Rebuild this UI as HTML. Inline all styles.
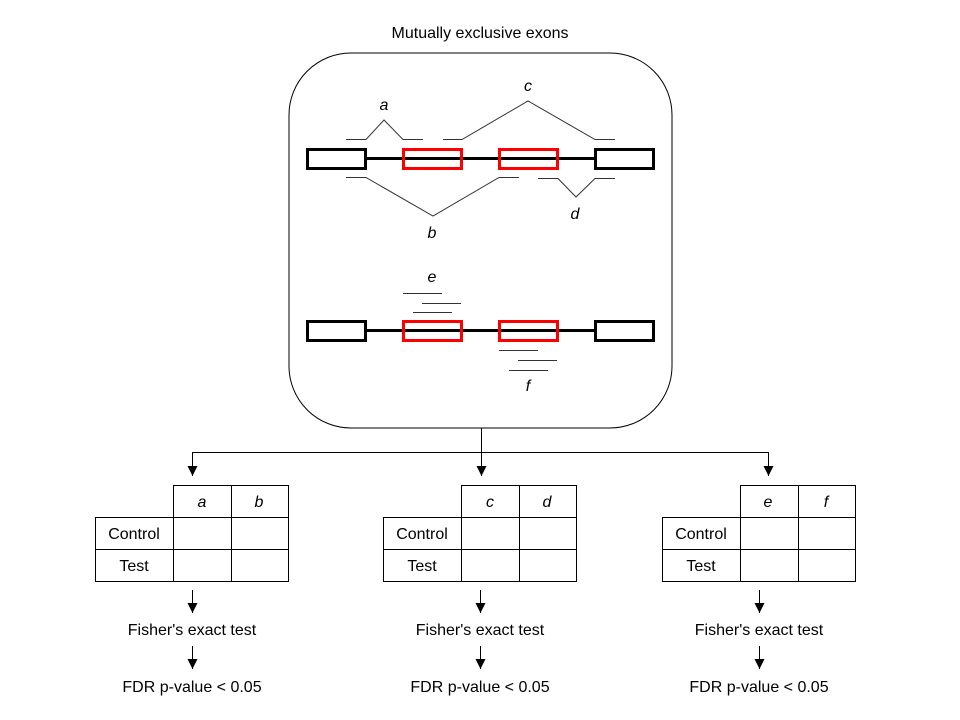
<!DOCTYPE html>
<html><head><meta charset="utf-8"><style>body{margin:0;background:#fff}svg{display:block}text{font-family:"Liberation Sans",sans-serif;font-size:16px;fill:#000}</style></head><body>
<svg width="960" height="720" viewBox="0 0 960 720" xmlns="http://www.w3.org/2000/svg">
<defs><marker id="ar" markerWidth="10" markerHeight="10" refX="10" refY="5" orient="auto" markerUnits="userSpaceOnUse"><path d="M0,0 L10,5 L0,10 Z" fill="#000"/></marker></defs>
<text x="480" y="38" text-anchor="middle">Mutually exclusive exons</text>
<rect x="289" y="53" width="383" height="375" rx="62" fill="none" stroke="#000" stroke-width="1"/>
<g stroke-width="3" fill="none">
<line x1="366" y1="158.5" x2="595" y2="158.5" stroke="#000"/>
<rect x="307.5" y="149.5" width="58" height="19" stroke="#000"/>
<rect x="403.5" y="149.5" width="58" height="19" stroke="#f00"/>
<rect x="499.5" y="149.5" width="58" height="19" stroke="#f00"/>
<rect x="595.5" y="149.5" width="58" height="19" stroke="#000"/>
<line x1="366" y1="330.5" x2="595" y2="330.5" stroke="#000"/>
<rect x="307.5" y="321.5" width="58" height="19" stroke="#000"/>
<rect x="403.5" y="321.5" width="58" height="19" stroke="#f00"/>
<rect x="499.5" y="321.5" width="58" height="19" stroke="#f00"/>
<rect x="595.5" y="321.5" width="58" height="19" stroke="#000"/>
</g>
<g stroke="#333" stroke-width="1" fill="none">
<polyline points="346,139.5 366,139.5 384,120 403,139.5 423,139.5"/>
<polyline points="443,139.5 462,139.5 528,101 595,139.5 615,139.5"/>
<polyline points="346,177.5 366,177.5 433,216 499,177.5 519,177.5"/>
<polyline points="538,178.5 558,178.5 576,197 595,178.5 615,178.5"/>
<line x1="403" y1="293.5" x2="442" y2="293.5"/><line x1="422" y1="303.5" x2="461" y2="303.5"/><line x1="413" y1="312.5" x2="452" y2="312.5"/>
<line x1="499" y1="350.5" x2="538" y2="350.5"/><line x1="518" y1="360.5" x2="557" y2="360.5"/><line x1="509" y1="370.5" x2="548" y2="370.5"/>
</g>
<text x="384" y="110" text-anchor="middle" font-style="italic">a</text>
<text x="528" y="91" text-anchor="middle" font-style="italic">c</text>
<text x="432" y="238" text-anchor="middle" font-style="italic">b</text>
<text x="575" y="219" text-anchor="middle" font-style="italic">d</text>
<text x="432" y="282" text-anchor="middle" font-style="italic">e</text>
<text x="528" y="391" text-anchor="middle" font-style="italic">f</text>
<g stroke="#000" stroke-width="1" fill="none">
<line x1="481.5" y1="428" x2="481.5" y2="452"/>
<line x1="192.5" y1="452.5" x2="768.5" y2="452.5"/>
<line x1="192.5" y1="452" x2="192.5" y2="476" marker-end="url(#ar)"/>
<line x1="481.5" y1="452" x2="481.5" y2="476" marker-end="url(#ar)"/>
<line x1="768.5" y1="452" x2="768.5" y2="476" marker-end="url(#ar)"/>
</g>
<g id="t1">
<g stroke="#000" stroke-width="1" fill="none">
<rect x="173.5" y="485.5" width="115" height="96"/>
<rect x="95.5" y="517.5" width="193" height="64"/>
<line x1="95" y1="549.5" x2="288" y2="549.5"/>
<line x1="231.5" y1="485" x2="231.5" y2="581"/>
<line x1="192.5" y1="590" x2="192.5" y2="613" marker-end="url(#ar)"/>
<line x1="192.5" y1="646" x2="192.5" y2="669" marker-end="url(#ar)"/>
</g>
<text x="134" y="539" text-anchor="middle">Control</text>
<text x="134" y="571" text-anchor="middle">Test</text>
<text x="192" y="635" text-anchor="middle">Fisher's exact test</text>
<text x="192" y="692" text-anchor="middle">FDR p-value &lt; 0.05</text>
</g>
<text x="202" y="507" text-anchor="middle" font-style="italic">a</text>
<text x="259" y="507" text-anchor="middle" font-style="italic">b</text>
<use href="#t1" transform="translate(288,0)"/>
<text x="490" y="507" text-anchor="middle" font-style="italic">c</text>
<text x="547" y="507" text-anchor="middle" font-style="italic">d</text>
<use href="#t1" transform="translate(567,0)"/>
<text x="768" y="507" text-anchor="middle" font-style="italic">e</text>
<text x="826" y="507" text-anchor="middle" font-style="italic">f</text>
</svg>
</body></html>
